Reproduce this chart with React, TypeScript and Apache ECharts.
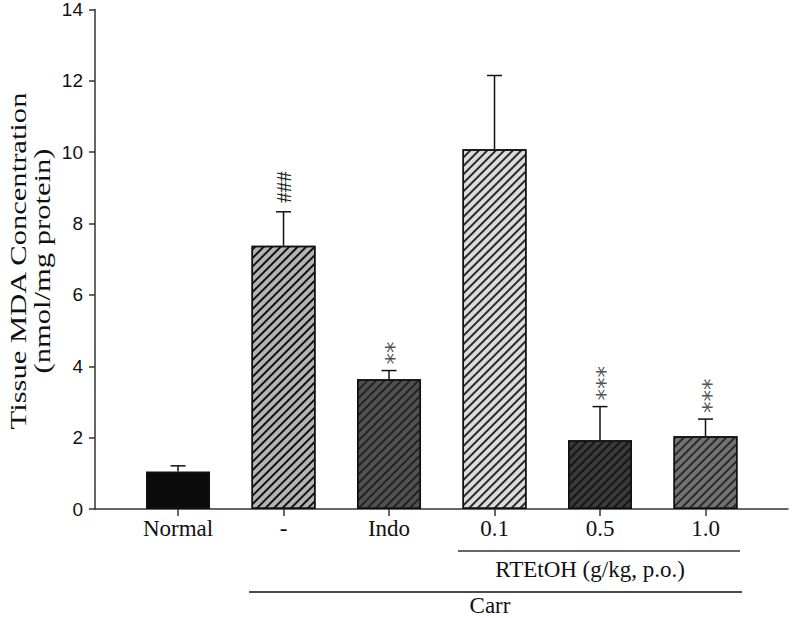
import React, { useEffect, useRef } from "react";
import * as echarts from "echarts";

const categories = ["Normal", "-", "Indo", "0.1", "0.5", "1.0"];
const means = [1.05, 7.38, 3.64, 10.08, 1.93, 2.04];
const upperErrors = [0.16, 0.95, 0.24, 2.07, 0.94, 0.48];
const marks = ["", "###", "**", "", "***", "***"];
const barFills = ["#0b0b0b", "#b4b4b4", "#515151", "#dcdcdc", "#3a3a3a", "#727272"];
const hatchColors = ["", "#111111", "#222222", "#2a2a2a", "#151515", "#2a2a2a"];
const yTitle = "Tissue MDA Concentration\n(nmol/mg protein)";
const groupLabel1 = "RTEtOH (g/kg, p.o.)";
const groupLabel2 = "Carr";

export default function App() {
  const ref = useRef<HTMLDivElement>(null);
  useEffect(() => {
    if (!ref.current) return;
    const chart = echarts.init(ref.current, undefined, { renderer: "svg" });
    const serif = '"Liberation Serif", "DejaVu Serif", serif';
    const sans = '"Liberation Sans", Arial, sans-serif';

    const barData = categories.map((c, i) => ({
      value: [i, means[i]],
      itemStyle: {
        color: barFills[i],
        borderColor: "#111",
        borderWidth: 1.5,
        decal: hatchColors[i]
          ? {
              symbol: "rect",
              symbolSize: 1,
              dashArrayX: [1, 0],
              dashArrayY: [1.5, 3.2],
              rotation: -Math.PI / 4,
              color: hatchColors[i],
            }
          : undefined,
      },
    }));

    const errData = categories.map((c, i) => [i, means[i], means[i] + upperErrors[i]]);
    const markData = categories.map((c, i) => [i, means[i] + upperErrors[i], i]);

    chart.setOption({
      animation: false,
      backgroundColor: "#fff",
      grid: { left: 95, right: 4, top: 9, bottom: 109, containLabel: false },
      xAxis: {
        type: "value",
        min: -0.787,
        max: 5.782,
        splitLine: { show: false },
        axisLine: { show: true, onZero: false, lineStyle: { color: "#333", width: 1.5 } },
        axisTick: {
          show: true,
          length: 7,
          customValues: [0, 1, 2, 3, 4, 5],
          lineStyle: { color: "#333", width: 1.5 },
        },
        axisLabel: {
          show: true,
          customValues: [0, 1, 2, 3, 4, 5],
          formatter: (v: number) => categories[Math.round(v)] ?? "",
          fontFamily: serif,
          fontSize: 23,
          color: "#111",
          margin: 8,
        },
      },
      yAxis: {
        type: "value",
        min: 0,
        max: 14,
        interval: 2,
        splitLine: { show: false },
        axisLine: { show: true, onZero: false, lineStyle: { color: "#333", width: 1.5 } },
        axisTick: { show: true, length: 6, lineStyle: { color: "#333", width: 1.5 } },
        axisLabel: { fontFamily: sans, fontSize: 19, color: "#111", margin: 12 },
      },
      series: [
        {
          type: "bar",
          data: barData,
          barWidth: 64,
          z: 2,
        },
        {
          type: "custom",
          data: errData,
          z: 3,
          renderItem: (params: any, api: any) => {
            const x = api.value(0);
            const base = api.coord([x, api.value(1)]);
            const top = api.coord([x, api.value(2)]);
            return {
              type: "group",
              children: [
                {
                  type: "line",
                  shape: { x1: base[0], y1: base[1], x2: top[0], y2: top[1] },
                  style: { stroke: "#111", lineWidth: 1.5 },
                },
                {
                  type: "line",
                  shape: { x1: top[0] - 7.5, y1: top[1], x2: top[0] + 7.5, y2: top[1] },
                  style: { stroke: "#111", lineWidth: 1.5 },
                },
              ],
            };
          },
        },
        {
          type: "custom",
          data: markData,
          z: 4,
          renderItem: (params: any, api: any) => {
            const x = api.value(0);
            const idx = Math.round(api.value(2));
            const top = api.coord([x, api.value(1)]);
            const txt = marks[idx];
            if (!txt) return { type: "group", children: [] };
            const isStar = txt.indexOf("*") >= 0;
            return {
              type: "text",
              x: top[0] + (isStar ? 5 : 0),
              y: top[1] - (isStar ? 6 : 9),
              rotation: Math.PI / 2,
              style: {
                text: txt,
                fontFamily: isStar ? '"DejaVu Sans", sans-serif' : serif,
                fontSize: isStar ? 23 : 21,
                fill: isStar ? "#555" : "#222",
                align: "left",
                verticalAlign: "middle",
              },
            };
          },
        },
      ],
      graphic: [
        {
          type: "text",
          x: 30,
          y: 261,
          rotation: Math.PI / 2,
          scaleX: 1.33,
          style: {
            text: yTitle,
            fontFamily: serif,
            fontSize: 23,
            lineHeight: 24,
            fill: "#111",
            align: "center",
            verticalAlign: "middle",
          },
        },
        {
          type: "line",
          shape: { x1: 458, y1: 551, x2: 740, y2: 551 },
          style: { stroke: "#333", lineWidth: 1.3 },
        },
        {
          type: "text",
          x: 590,
          y: 569,
          style: {
            text: groupLabel1,
            fontFamily: serif,
            fontSize: 23,
            fill: "#111",
            align: "center",
            verticalAlign: "middle",
          },
        },
        {
          type: "line",
          shape: { x1: 249, y1: 592, x2: 742, y2: 592 },
          style: { stroke: "#111", lineWidth: 1.3 },
        },
        {
          type: "text",
          x: 490,
          y: 605,
          style: {
            text: groupLabel2,
            fontFamily: serif,
            fontSize: 23,
            fill: "#111",
            align: "center",
            verticalAlign: "middle",
          },
        },
      ],
    });
    return () => chart.dispose();
  }, []);
  return <div ref={ref} style={{ width: 792, height: 618, position: "absolute", left: 0, top: 0 }} />;
}
